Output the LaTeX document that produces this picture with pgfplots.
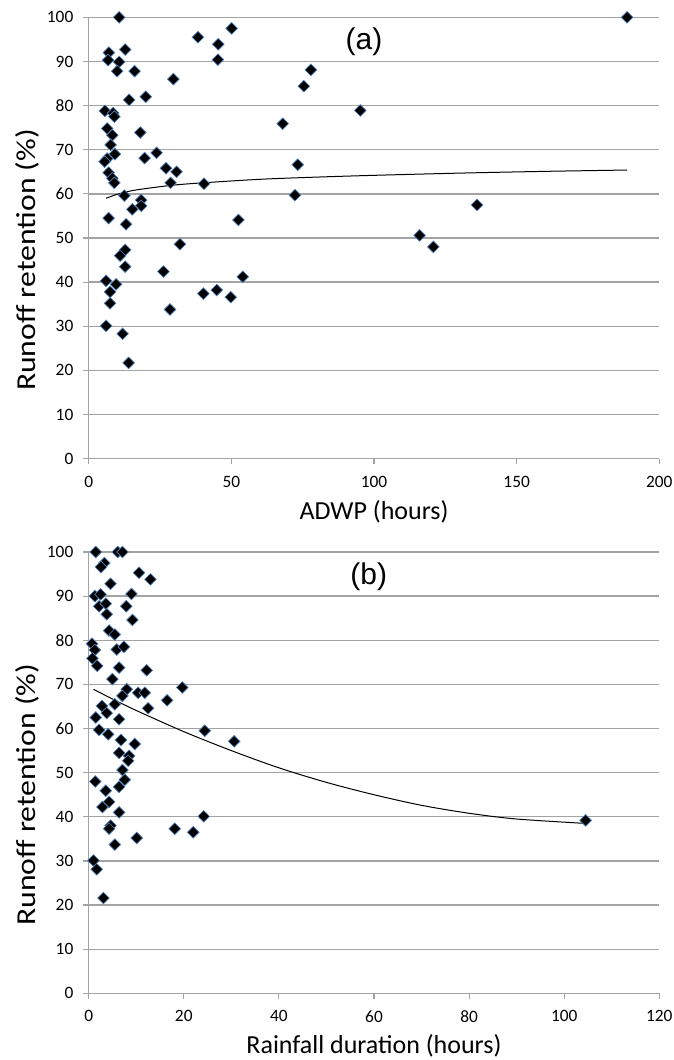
\documentclass[border=0pt]{standalone}
\usepackage{fontspec}
\setmainfont{Carlito}
\newfontfamily\panelfont{Liberation Sans}
\usepackage{pgfplots}
\pgfplotsset{compat=1.18}

\definecolor{gridgray}{HTML}{A3A3A3}
\definecolor{markedge}{HTML}{4F81BD}

\pgfplotsset{
  retention/.style={
    scale only axis, width=428pt, height=331pt,
    ymin=0, ymax=100, ytick={0,10,...,100},
    axis x line*=bottom, axis y line*=left,
    axis line style={-, gridgray, line width=1pt},
    tick align=outside, major tick length=4pt,
    tick style={gridgray, line width=0.9pt},
    ymajorgrids, grid style={gridgray, line width=1pt},
    tick label style={font=\fontsize{13}{15}\selectfont},
    yticklabel style={xshift=-4pt},
    xticklabel style={yshift=-5.5pt},
    /pgf/number format/assume math mode=true,
    xlabel style={font=\fontsize{19.5}{22}\selectfont,
      at={(axis description cs:0.5,-0.137)}, anchor=base},
    ylabel style={font=\fontsize{20.5}{24}\selectfont,
      at={(axis description cs:-0.108,0.45)}, anchor=center, xscale=1.16},
    ylabel={Runoff retention (\%)},
    clip=false,
  },
  dots/.style={only marks, mark=square*, mark size=3.1pt,
    mark options={rotate=45, fill=black, draw=markedge, line width=0.5pt}},
  trend/.style={black, line width=0.75pt, smooth, no marks},
}

\begin{document}
\begin{tikzpicture}
% (a) ADWP
\begin{axis}[retention, name=top, at={(0,0)}, anchor=origin,
    xmin=0, xmax=200, xtick={0,50,...,200},
    xlabel={ADWP (hours)}]
  \addplot[dots] coordinates {
    (10.7,100) (7.1,92.0) (12.8,92.7) (6.8,90.3) (10.7,89.9) (10.0,87.8)
    (16.1,87.8) (29.7,86.0) (38.3,95.5) (45.4,93.9) (45.3,90.4) (50.1,97.5)
    (14.2,81.3) (20.0,82.0) (5.7,78.8) (8.6,78.3) (9.0,77.5) (6.5,74.8)
    (8.3,73.3) (18.1,73.9) (7.7,71.1) (9.2,69.0) (23.8,69.3) (6.5,68.0)
    (5.6,67.3) (19.6,68.1) (27.1,65.8) (30.8,65.0) (7.0,64.8) (8.3,63.5)
    (9.0,62.5) (28.7,62.5) (40.4,62.3) (12.5,59.6) (18.4,58.6) (18.4,57.3)
    (15.3,56.5) (7.0,54.5) (13.1,53.1) (52.5,54.1) (68.0,75.9) (32.0,48.6)
    (12.8,47.3) (11.0,46.0) (12.8,43.5) (26.2,42.4) (6.1,40.3) (9.6,39.5)
    (7.5,37.8) (7.5,35.2) (28.5,33.8) (40.2,37.4) (44.9,38.2) (49.8,36.6)
    (54.0,41.2) (6.1,30.1) (11.9,28.3) (14.0,21.7) (77.9,88.1) (75.4,84.4)
    (95.2,78.9) (73.3,66.6) (72.3,59.7) (136.1,57.5) (116.0,50.6)
    (120.8,48.0) (188.7,100)
  };
  \addplot[trend] coordinates {
    (6.1,59.0) (10,59.9) (15,60.7) (20,61.2) (30,62.0) (40,62.5) (60,63.3)
    (80,63.8) (100,64.2) (130,64.7) (160,65.1) (188.7,65.4)
  };
  \node[font=\panelfont\fontsize{22.5}{26}\selectfont] at (axis cs:96.5,94.4) {(a)};
\end{axis}
% (b) rainfall duration
\begin{axis}[retention, name=bot, at={(0,-401pt)}, anchor=origin,
    xmin=0, xmax=120, xtick={0,20,...,120},
    xlabel={Rainfall duration (hours)}]
  \addplot[dots] coordinates {
    (1.5,100) (6.1,100) (7.1,100) (3.3,97.5) (2.6,96.6) (10.6,95.3)
    (13.0,93.8) (4.6,92.8) (1.3,90.0) (2.5,90.4) (9.0,90.5) (2.2,87.7)
    (3.6,88.3) (7.9,87.7) (3.8,85.9) (9.2,84.6) (4.3,82.2) (5.5,81.3)
    (0.7,79.2) (1.3,77.8) (5.9,77.9) (7.4,78.5) (0.8,75.9) (1.8,74.2)
    (6.4,73.8) (12.2,73.2) (5.0,71.2) (8.0,68.9) (7.1,67.4) (10.4,68.1)
    (11.8,68.1) (19.7,69.3) (16.5,66.4) (5.5,65.5) (2.8,65.1) (3.8,63.5)
    (12.5,64.6) (1.5,62.5) (6.4,62.1) (2.2,59.7) (4.1,58.7) (24.4,59.5)
    (30.6,57.1) (6.8,57.4) (9.7,56.5) (6.4,54.5) (8.5,53.8) (8.3,52.7)
    (7.1,50.6) (7.6,48.4) (1.4,48.0) (6.4,46.8) (3.6,45.9) (4.3,43.4)
    (2.9,42.2) (6.4,41.0) (4.6,38.0) (4.3,37.3) (5.5,33.7) (10.1,35.2)
    (18.1,37.3) (22.0,36.5) (24.2,40.1) (1.0,30.1) (1.7,28.1) (3.1,21.6)
    (104.5,39.2)
  };
  \addplot[trend] coordinates {
    (1,68.9) (5,66.7) (10,64.1) (20,59.3) (30,55.0) (40,51.1) (50,47.8)
    (60,45.0) (70,42.6) (80,40.8) (90,39.5) (104.5,38.5)
  };
  \node[font=\panelfont\fontsize{22.5}{26}\selectfont] at (axis cs:58.9,94.5) {(b)};
\end{axis}
\pgfresetboundingbox
\useasboundingbox (-66.5pt,-451pt) rectangle (439pt,344pt);
\end{tikzpicture}
\end{document}
